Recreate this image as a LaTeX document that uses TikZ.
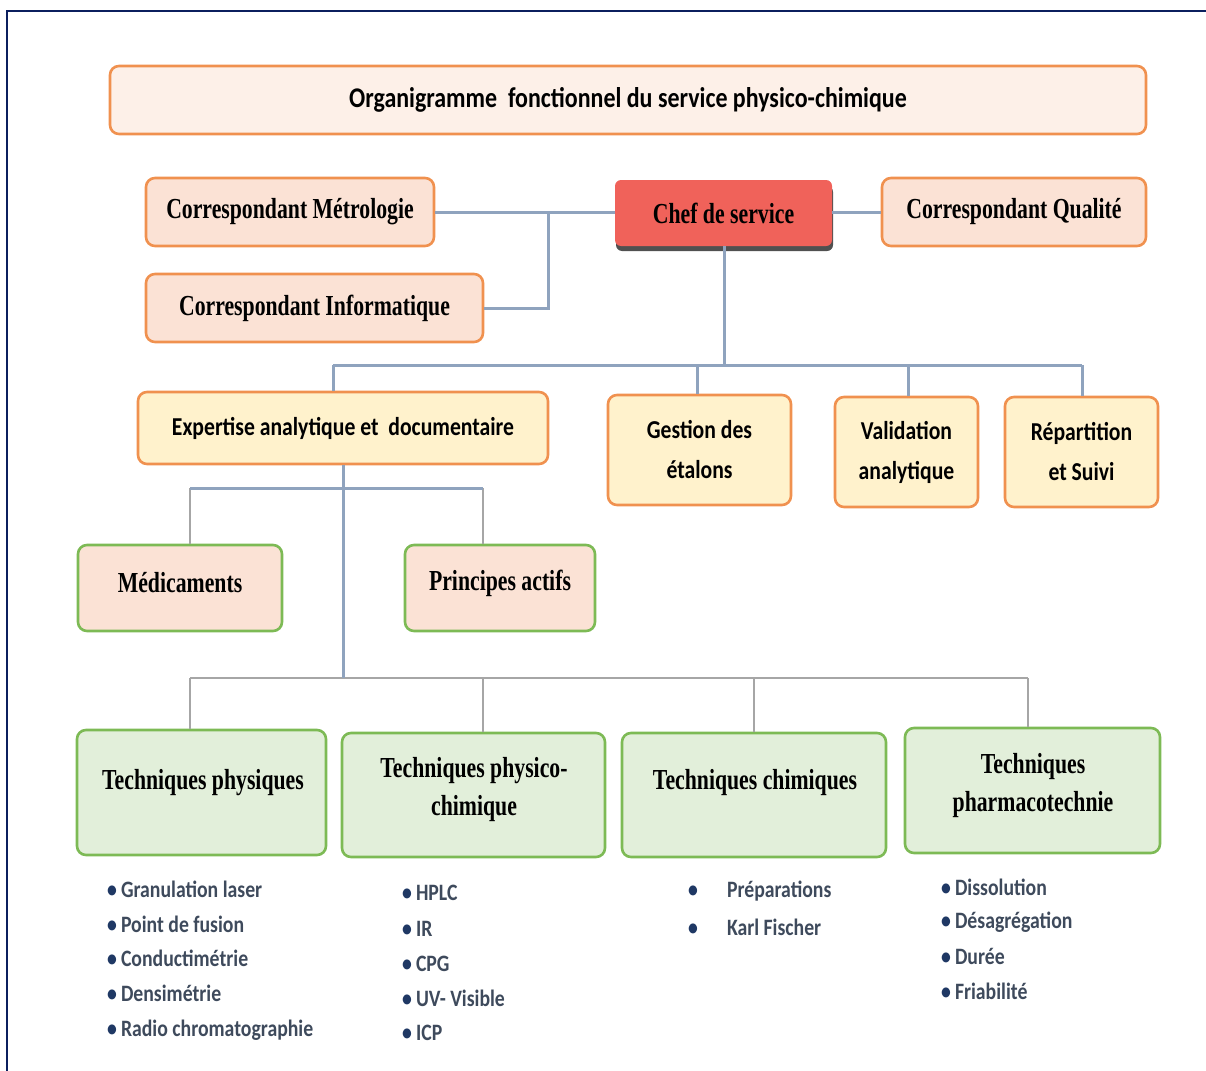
\documentclass[tikz,border=0pt]{standalone}
\usepackage{fontspec}
\setmainfont{Liberation Serif}
\newfontfamily\tnrfont[FakeStretch=0.75]{Liberation Serif}
\newfontfamily\calfont[FakeStretch=0.84]{Carlito}
\definecolor{framec}{HTML}{0B1F5E}
\definecolor{orangeb}{HTML}{F0914F}
\definecolor{titlefill}{HTML}{FDF0E8}
\definecolor{corrfill}{HTML}{FBE2D5}
\definecolor{chefred}{HTML}{F0625A}
\definecolor{chefshadow}{HTML}{505050}
\definecolor{yellowfill}{HTML}{FFF2CC}
\definecolor{greenb}{HTML}{7DBA55}
\definecolor{greenfill}{HTML}{E2EFDA}
\definecolor{linkblue}{HTML}{8FA3BE}
\definecolor{linkgrey}{HTML}{A6A6A6}
\definecolor{listtext}{HTML}{3E4A5C}
\definecolor{bulletc}{HTML}{1F3864}
\tikzset{
  box/.style={draw, rounded corners=9pt, line width=2.6pt, inner sep=0pt, align=center},
  corrbox/.style={box, draw=orangeb, fill=corrfill, font=\tnrfont\bfseries\fontsize{29}{32}\selectfont},
  titlebox/.style={box, draw=orangeb, fill=titlefill, font=\calfont\bfseries\fontsize{28.5}{30}\selectfont},
  chefbox/.style={rounded corners=6pt, fill=chefred, inner sep=0pt, font=\tnrfont\bfseries\fontsize{29}{32}\selectfont},
  yellowbox/.style={box, draw=orangeb, fill=yellowfill, font=\calfont\bfseries\fontsize{25.8}{40}\selectfont},
  pinkgreen/.style={box, draw=greenb, fill=corrfill},
  greenbox/.style={box, draw=greenb, fill=greenfill},
  serlabel/.style={inner sep=0pt, align=center, font=\tnrfont\bfseries\fontsize{29}{38}\selectfont},
  linkb/.style={draw=linkblue, line width=3pt},
  linkg/.style={draw=linkgrey, line width=2.6pt},
  item/.style={anchor=west, inner sep=0pt, text height=15pt, text depth=4pt, text=listtext, font=\calfont\bfseries\fontsize{23.5}{26}\selectfont},
}
\newcommand{\bul}{{\color{bulletc}\textbullet}}
\begin{document}
\begin{tikzpicture}[x=1pt,y=-1pt]
\useasboundingbox (0,0) rectangle (1206,1070);
\draw[framec, line width=2.6pt] (7,1075) -- (7,11) -- (1210,11);

% top
\node[titlebox, minimum width=1036, minimum height=68] (title) at (628,100) {\raisebox{-2pt}{Organigramme\ \ fonctionnel du service physico-chimique}};

\node[corrbox, minimum width=288, minimum height=68] (met) at (290,212) {\raisebox{-2pt}{Correspondant Métrologie}};
\fill[chefshadow, rounded corners=6pt] (616,186) rectangle (833,251);
\node[chefbox, minimum width=217, minimum height=66] (chef) at (723.5,213) {Chef de service};
\node[corrbox, minimum width=264, minimum height=68] (qual) at (1014,212) {\raisebox{-2pt}{Correspondant Qualité}};
\node[corrbox, minimum width=337, minimum height=68] (info) at (314.5,308) {\raisebox{-2pt}{Correspondant Informatique}};

% level 2
\node[yellowbox, minimum width=410, minimum height=72] (exp) at (343,428) {Expertise analytique et\ \ documentaire};
\node[yellowbox, minimum width=183, minimum height=110] (gest) at (699.5,450) {Gestion des\\étalons};
\node[yellowbox, minimum width=143, minimum height=110] (valid) at (906.5,452) {Validation\\analytique};
\node[yellowbox, minimum width=153, minimum height=110] (rep) at (1081.5,452) {Répartition\\et Suivi};

% level 3
\node[pinkgreen, minimum width=204, minimum height=86] (med) at (180,588) {};
\node[serlabel] (medt) at (180,583) {Médicaments};
\node[pinkgreen, minimum width=190, minimum height=86] (pa) at (500,588) {};
\node[serlabel] (pat) at (500,583) {Principes actifs};

% techniques
\node[greenbox, minimum width=249, minimum height=125] (tp) at (201.5,792.5) {};
\node[serlabel] (tpt) at (203,783) {Techniques physiques};
\node[greenbox, minimum width=263, minimum height=124] (tpc) at (473.5,795) {};
\node[serlabel] (tpct) at (474,790) {Techniques physico-\\chimique};
\node[greenbox, minimum width=264, minimum height=124] (tc) at (754,795) {};
\node[serlabel] (tct) at (755,783) {Techniques chimiques};
\node[greenbox, minimum width=255, minimum height=125] (tph) at (1032.5,790.5) {};
\node[serlabel] (tpht) at (1033,786) {Techniques\\pharmacotechnie};

% connectors top
\coordinate (j1) at (548,212);
\draw[linkb] (met.east) -- (met.east -| chef.west);
\draw[linkb] (info.east) -| (j1);
\draw[linkb] (chef.east |- qual.west) -- (qual.west);
\coordinate (b0) at (724,365);
\coordinate (b1) at (333,365);
\coordinate (b2) at (697,365);
\coordinate (b3) at (908,365);
\coordinate (b4) at (1082,365);
\draw[linkb] (chef.south -| b0) -- (b0);
\draw[linkb] (b1) -- (b4);
\draw[linkb] (b1) -- (b1 |- exp.north);
\draw[linkb] (b2) -- (b2 |- gest.north);
\draw[linkb] (b3) -- (b3 |- valid.north);
\draw[linkb] (b4) -- (b4 |- rep.north);

% expertise branch
\coordinate (e0) at (343,678);
\coordinate (m1) at (190,488);
\coordinate (m2) at (483,488);
\draw[linkg] (m1) -- (m1 |- med.north);
\draw[linkg] (m2) -- (m2 |- pa.north);
\draw[linkb] (m1) -- (m2);
\coordinate (t1) at (190,678);
\coordinate (t2) at (483,678);
\coordinate (t3) at (754,678);
\coordinate (t4) at (1028,678);
\draw[linkg] (t1) -- (t4);
\draw[linkg] (t1) -- (t1 |- tp.north);
\draw[linkg] (t2) -- (t2 |- tpc.north);
\draw[linkg] (t3) -- (t3 |- tc.north);
\draw[linkg] (t4) -- (t4 |- tph.north);
\draw[linkb] (exp.south) -- (e0);

% lists
\node[item] (a1) at (107,892) {\bul\hspace{4pt}Granulation laser};
\node[item] (a2) at (107,927) {\bul\hspace{4pt}Point de fusion};
\node[item] (a3) at (107,961) {\bul\hspace{4pt}Conductimétrie};
\node[item] (a4) at (107,996) {\bul\hspace{4pt}Densimétrie};
\node[item] (a5) at (107,1031) {\bul\hspace{4pt}Radio chromatographie};

\node[item] (b1i) at (402,895) {\bul\hspace{4pt}HPLC};
\node[item] (b2i) at (402,931) {\bul\hspace{4pt}IR};
\node[item] (b3i) at (402,966) {\bul\hspace{4pt}CPG};
\node[item] (b4i) at (402,1001) {\bul\hspace{4pt}UV- Visible};
\node[item] (b5i) at (402,1035) {\bul\hspace{4pt}ICP};

\node[item] (c1) at (688,892) {\bul\hspace{29pt}Préparations};
\node[item] (c2) at (688,930) {\bul\hspace{29pt}Karl Fischer};

\node[item] (d1) at (941,890) {\bul\hspace{4pt}Dissolution};
\node[item] (d2) at (941,923) {\bul\hspace{4pt}Désagrégation};
\node[item] (d3) at (941,959) {\bul\hspace{4pt}Durée};
\node[item] (d4) at (941,994) {\bul\hspace{4pt}Friabilité};
\end{tikzpicture}
\end{document}
